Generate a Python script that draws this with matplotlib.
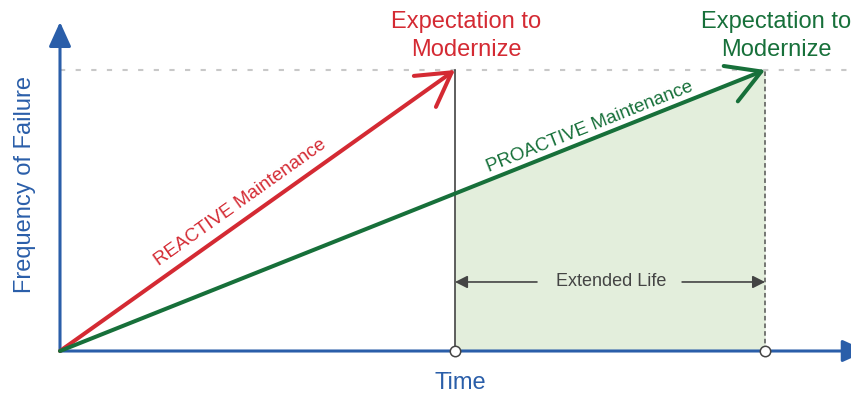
import numpy as np
import matplotlib
matplotlib.use("Agg")
import matplotlib.pyplot as plt

plt.rcParams["font.family"] = ["Liberation Sans", "DejaVu Sans"]

# conceptual data: time at which each strategy reaches the modernize threshold
strategies = ["REACTIVE Maintenance", "PROACTIVE Maintenance"]
end_times = [4.0, 7.14]
modernize_level = 1.0
threshold_labels = ["Expectation to\nModernize", "Expectation to\nModernize"]
colors = ["#d42a33", "#17703a"]
x_label = "Time"
y_label = "Frequency of Failure"
gap_label = "Extended Life"

BLUE = "#2a5ea9"
GRAY = "#444444"

fig = plt.figure(figsize=(8.51, 3.96), dpi=100)
ax = fig.add_axes([0, 0, 1, 1])
ax.set_xlim(-60 / 98.75, 791 / 98.75)
ax.set_ylim(-45 / 281, 351 / 281)
ax.axis("off")

t_r, t_p = end_times

# shaded extended-life region under the proactive line
xs = np.array([t_r, t_p])
ax.fill_between(xs, 0, modernize_level * xs / t_p, color="#e3eedc", lw=0, zorder=1)

# threshold line
ax.plot([0, 8.2], [modernize_level] * 2, color="#c8c8c8", lw=1.5,
        linestyle=(0, (2.5, 5)), zorder=2)

# verticals at each modernize point
ax.plot([t_r, t_r], [0, modernize_level], color="#333333", lw=1.1, zorder=3)
ax.plot([t_p, t_p], [0, modernize_level], color="#555555", lw=1.1,
        linestyle=(0, (3, 2)), zorder=3)

# axes arrows
axis_kw = dict(arrowstyle="-|>,head_length=1.5,head_width=0.68",
               color=BLUE, lw=2.2, shrinkA=0, shrinkB=0)
ax.annotate("", xy=(0, 1.171), xytext=(0, 0), arrowprops=axis_kw,
            annotation_clip=False, zorder=4)
ax.annotate("", xy=(8.17, 0), xytext=(0, 0), arrowprops=axis_kw,
            annotation_clip=False, zorder=4)

# maintenance lines with open arrowheads
for t_end, c in zip(end_times, colors):
    ax.annotate("", xy=(t_end, modernize_level), xytext=(0, 0),
                arrowprops=dict(arrowstyle="->,head_length=2.37,head_width=1.37",
                                color=c, lw=2.9, shrinkA=0, shrinkB=0,
                                capstyle="round", joinstyle="round"),
                annotation_clip=False, zorder=6)

# markers at modernize times
ax.plot(end_times, [0, 0], "o", ms=7.5, mfc="white", mec=GRAY, mew=1.1,
        zorder=7, clip_on=False)

# threshold labels
for t_end, lab, c in zip(end_times, threshold_labels, colors):
    ax.text(t_end + 0.115, 1.122, lab, color=c, fontsize=17, ha="center",
            va="center", linespacing=1.35)

# line labels
ax.text(1.823, 0.527, strategies[0], color=colors[0], fontsize=13.5,
        rotation=35.4, ha="center", va="center", rotation_mode="anchor")
ax.text(5.367, 0.797, strategies[1], color=colors[1], fontsize=13.5,
        rotation=21.7, ha="center", va="center", rotation_mode="anchor")

# extended life annotation
ax.text((t_r + t_p) / 2 + 0.01, 0.2456, gap_label, color=GRAY, fontsize=13,
        ha="center", va="center")
arrow_kw = dict(arrowstyle="-|>,head_length=0.75,head_width=0.38", color=GRAY,
                lw=1.2, shrinkA=0, shrinkB=0)
ax.annotate("", xy=(t_r, 0.2456), xytext=(4.83, 0.2456), arrowprops=arrow_kw)
ax.annotate("", xy=(t_p, 0.2456), xytext=(6.30, 0.2456), arrowprops=arrow_kw)

# axis titles
ax.text(4.05, -0.114, x_label, color=BLUE, fontsize=17, ha="center", va="center")
ax.text(-0.355, 0.591, y_label, color=BLUE, fontsize=17, ha="center",
        va="center", rotation=90)

fig.savefig("out.png", dpi=100)
plt.close(fig)
